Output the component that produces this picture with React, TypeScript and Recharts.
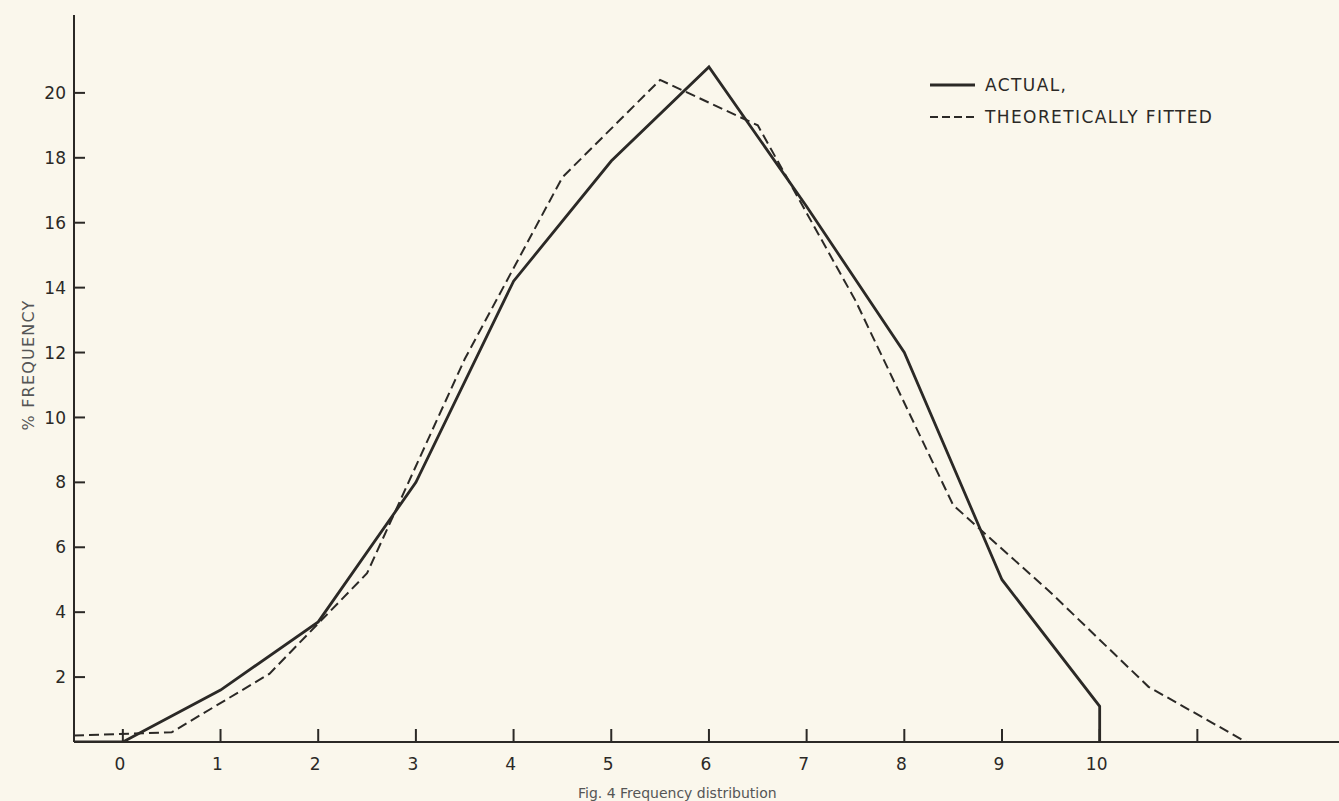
import React from 'react';
import { LineChart, Line, XAxis, YAxis, Legend } from 'recharts';

// ACTUAL (solid) polygon, vertices at integer classes
const actualX = [-0.5, 0, 1, 2, 3, 4, 5, 6, 7, 8, 9, 10, 10];
const actualV = [0, 0, 1.6, 3.7, 8.0, 14.2, 17.9, 20.8, 16.5, 12.0, 5.0, 1.1, 0];

// THEORETICALLY FITTED (dashed), vertices at class midpoints
const fittedX = [-0.5, 0.5, 1.5, 2.5, 3.5, 4.5, 5.5, 6.5, 7.5, 8.5, 9.5, 10.5, 11.5];
const fittedV = [0.2, 0.3, 2.1, 5.2, 11.8, 17.4, 20.4, 19.0, 13.6, 7.3, 4.6, 1.7, 0];

const xTicks = [0, 1, 2, 3, 4, 5, 6, 7, 8, 9, 10, 11];
const xTickLabels = ['0', '1', '2', '3', '4', '5', '6', '7', '8', '9', '10', ''];
const yTicks = [2, 4, 6, 8, 10, 12, 14, 16, 18, 20];

const actualData = actualX.map((x, i) => ({ x, v: actualV[i] }));
const fittedData = fittedX.map((x, i) => ({ x, v: fittedV[i] }));

const INK = '#2b2926';
const FONT = '"DejaVu Sans", "Open Sans", sans-serif';

const YTick = (props: any) => {
  const { x, y, payload } = props;
  return (
    <g>
      <line x1={x} x2={x + 11} y1={y} y2={y} stroke={INK} strokeWidth={2} />
      <text x={x - 8} y={y} dy="0.36em" textAnchor="end" fontFamily={FONT} fontSize={17} fill={INK}>
        {payload.value}
      </text>
    </g>
  );
};

const XTick = (props: any) => {
  const { x, y, payload } = props;
  const idx = xTicks.indexOf(payload.value);
  const label = idx >= 0 ? xTickLabels[idx] : '';
  return (
    <g>
      <line x1={x} x2={x} y1={y} y2={y - 13} stroke={INK} strokeWidth={2} />
      {label !== '' && (
        <text x={x - 3} y={y + 22} dy="0.36em" textAnchor="middle" fontFamily={FONT} fontSize={17} fill={INK}>
          {label}
        </text>
      )}
    </g>
  );
};

const YTitle = () => (
  <text
    transform="translate(34,365) rotate(-90)"
    textAnchor="middle"
    fontFamily={FONT}
    fontSize={16}
    letterSpacing={1.2}
    fill="#555"
  >
    % FREQUENCY
  </text>
);

const Caption = () => (
  <text x={578} y={798} fontFamily={FONT} fontSize={14} fill="#555">
    Fig. 4 Frequency distribution
  </text>
);

const LegendBox = () => (
  <svg width={320} height={60} style={{ overflow: 'visible' }}>
    <line x1={5} x2={50} y1={15} y2={15} stroke={INK} strokeWidth={3} />
    <text x={60} y={15} dy="0.36em" fontFamily={FONT} fontSize={17} letterSpacing={1.4} fill={INK}>
      ACTUAL,
    </text>
    <line x1={5} x2={50} y1={47} y2={47} stroke={INK} strokeWidth={2} strokeDasharray="8 4" />
    <text x={60} y={47} dy="0.36em" fontFamily={FONT} fontSize={17} letterSpacing={1.4} fill={INK}>
      THEORETICALLY FITTED
    </text>
  </svg>
);

export default function App() {
  return (
    <div
      style={{
        position: 'absolute',
        left: 0,
        top: 0,
        width: 1339,
        height: 801,
        background: '#faf7ec',
        overflow: 'hidden',
      }}
    >
      <LineChart width={1339} height={801} margin={{ top: 15, right: 0, bottom: 0, left: 0 }}>
        <XAxis
          dataKey="x"
          type="number"
          domain={[-0.5, 12.45]}
          ticks={xTicks}
          interval={0}
          allowDataOverflow
          height={59}
          tickSize={0}
          tickMargin={0}
          tickLine={false}
          tick={<XTick />}
          axisLine={{ stroke: INK, strokeWidth: 2 }}
          label={<Caption />}
        />
        <YAxis
          type="number"
          domain={[0, 22.4]}
          ticks={yTicks}
          interval={0}
          allowDataOverflow
          width={74}
          tickSize={0}
          tickMargin={0}
          tickLine={false}
          tick={<YTick />}
          axisLine={{ stroke: INK, strokeWidth: 2 }}
          label={<YTitle />}
        />
        <Legend
          layout="horizontal"
          verticalAlign="middle"
          align="center"
          content={<LegendBox />}
          wrapperStyle={{ position: 'absolute', left: 925, top: 70, width: 320, height: 60 }}
        />
        <Line
          data={fittedData}
          dataKey="v"
          name="THEORETICALLY FITTED"
          type="linear"
          stroke={INK}
          strokeWidth={2}
          strokeDasharray="10 5"
          dot={false}
          activeDot={false}
          isAnimationActive={false}
        />
        <Line
          data={actualData}
          dataKey="v"
          name="ACTUAL"
          type="linear"
          stroke={INK}
          strokeWidth={2.8}
          dot={false}
          activeDot={false}
          isAnimationActive={false}
        />
      </LineChart>
    </div>
  );
}
